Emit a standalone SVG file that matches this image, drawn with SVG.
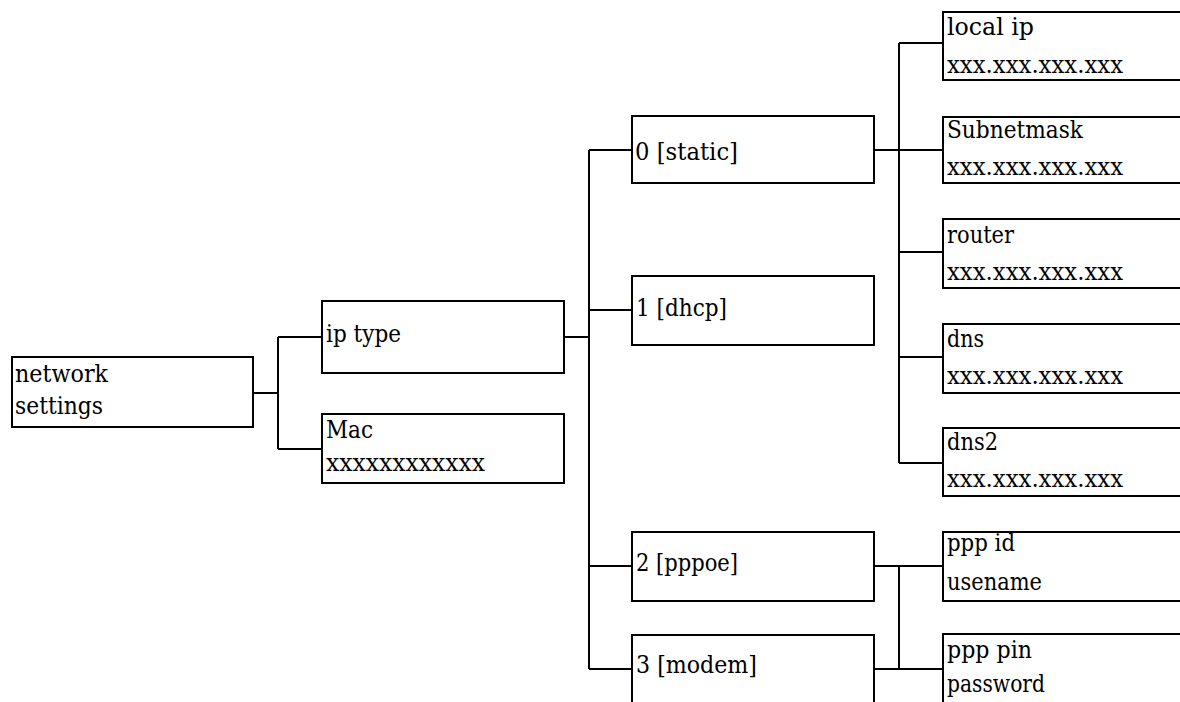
<svg xmlns="http://www.w3.org/2000/svg" width="1180" height="702" viewBox="0 0 1180 702">
<style>
.box{fill:#fff;stroke:#000;stroke-width:2}
.c{fill:none;stroke:#000;stroke-width:2}
text{font-family:'DejaVu Serif','Liberation Serif',serif;font-size:24px;fill:#000}
</style>
<rect width="1180" height="702" fill="#fff"/>
<g id="connectors">
<path class="c" d="M253,393H278M278,337V449M278,337H322M278,449H322"/>
<path class="c" d="M564,337H589M589,150V669M589,150H632M589,310H632M589,566H632M589,669H632"/>
<path class="c" d="M874,150H943M899,43V463M899,43H943M899,252H943M899,357H943M899,463H943"/>
<path class="c" d="M874,566H943M874,669H943M899,566V669"/>
</g>
<g id="network-settings"><rect class="box" x="12" y="357" width="241" height="70"/><text x="15" y="382" textLength="93" lengthAdjust="spacingAndGlyphs">network</text><text x="15" y="414" textLength="88" lengthAdjust="spacingAndGlyphs">settings</text></g>
<g id="ip-type"><rect class="box" x="322" y="301" width="242" height="72"/><text x="326" y="342" textLength="75" lengthAdjust="spacingAndGlyphs">ip type</text></g>
<g id="mac"><rect class="box" x="322" y="414" width="242" height="69"/><text x="326" y="438" textLength="47" lengthAdjust="spacingAndGlyphs">Mac</text><text x="326" y="471" textLength="159" lengthAdjust="spacingAndGlyphs">xxxxxxxxxxxx</text></g>
<g id="static"><rect class="box" x="632" y="116" width="242" height="67"/><text x="635" y="160" textLength="103" lengthAdjust="spacingAndGlyphs">0 [static]</text></g>
<g id="dhcp"><rect class="box" x="632" y="276" width="242" height="69"/><text x="636" y="316" textLength="91" lengthAdjust="spacingAndGlyphs">1 [dhcp]</text></g>
<g id="pppoe"><rect class="box" x="632" y="532" width="242" height="69"/><text x="636" y="571" textLength="102" lengthAdjust="spacingAndGlyphs">2 [pppoe]</text></g>
<g id="modem"><rect class="box" x="632" y="635" width="242" height="75"/><text x="636" y="673" textLength="121" lengthAdjust="spacingAndGlyphs">3 [modem]</text></g>
<g id="local-ip"><rect class="box" x="943" y="12" width="260" height="68"/><text x="947" y="35" textLength="87" lengthAdjust="spacingAndGlyphs">local ip</text><text x="947" y="73" textLength="176" lengthAdjust="spacingAndGlyphs">xxx.xxx.xxx.xxx</text></g>
<g id="subnetmask"><rect class="box" x="943" y="117" width="260" height="66"/><text x="947" y="138" textLength="136" lengthAdjust="spacingAndGlyphs">Subnetmask</text><text x="947" y="175" textLength="176" lengthAdjust="spacingAndGlyphs">xxx.xxx.xxx.xxx</text></g>
<g id="router"><rect class="box" x="943" y="219" width="260" height="69"/><text x="947" y="243" textLength="67" lengthAdjust="spacingAndGlyphs">router</text><text x="947" y="280" textLength="176" lengthAdjust="spacingAndGlyphs">xxx.xxx.xxx.xxx</text></g>
<g id="dns"><rect class="box" x="943" y="324" width="260" height="69"/><text x="947" y="347" textLength="37" lengthAdjust="spacingAndGlyphs">dns</text><text x="947" y="384" textLength="176" lengthAdjust="spacingAndGlyphs">xxx.xxx.xxx.xxx</text></g>
<g id="dns2"><rect class="box" x="943" y="428" width="260" height="68"/><text x="947" y="450" textLength="51" lengthAdjust="spacingAndGlyphs">dns2</text><text x="947" y="487" textLength="176" lengthAdjust="spacingAndGlyphs">xxx.xxx.xxx.xxx</text></g>
<g id="ppp-id"><rect class="box" x="943" y="532" width="260" height="69"/><text x="947" y="551" textLength="68" lengthAdjust="spacingAndGlyphs">ppp id</text><text x="947" y="590" textLength="95" lengthAdjust="spacingAndGlyphs">usename</text></g>
<g id="ppp-pin"><rect class="box" x="943" y="634" width="260" height="76"/><text x="947" y="658" textLength="85" lengthAdjust="spacingAndGlyphs">ppp pin</text><text x="947" y="692" textLength="98" lengthAdjust="spacingAndGlyphs">password</text></g>
</svg>
